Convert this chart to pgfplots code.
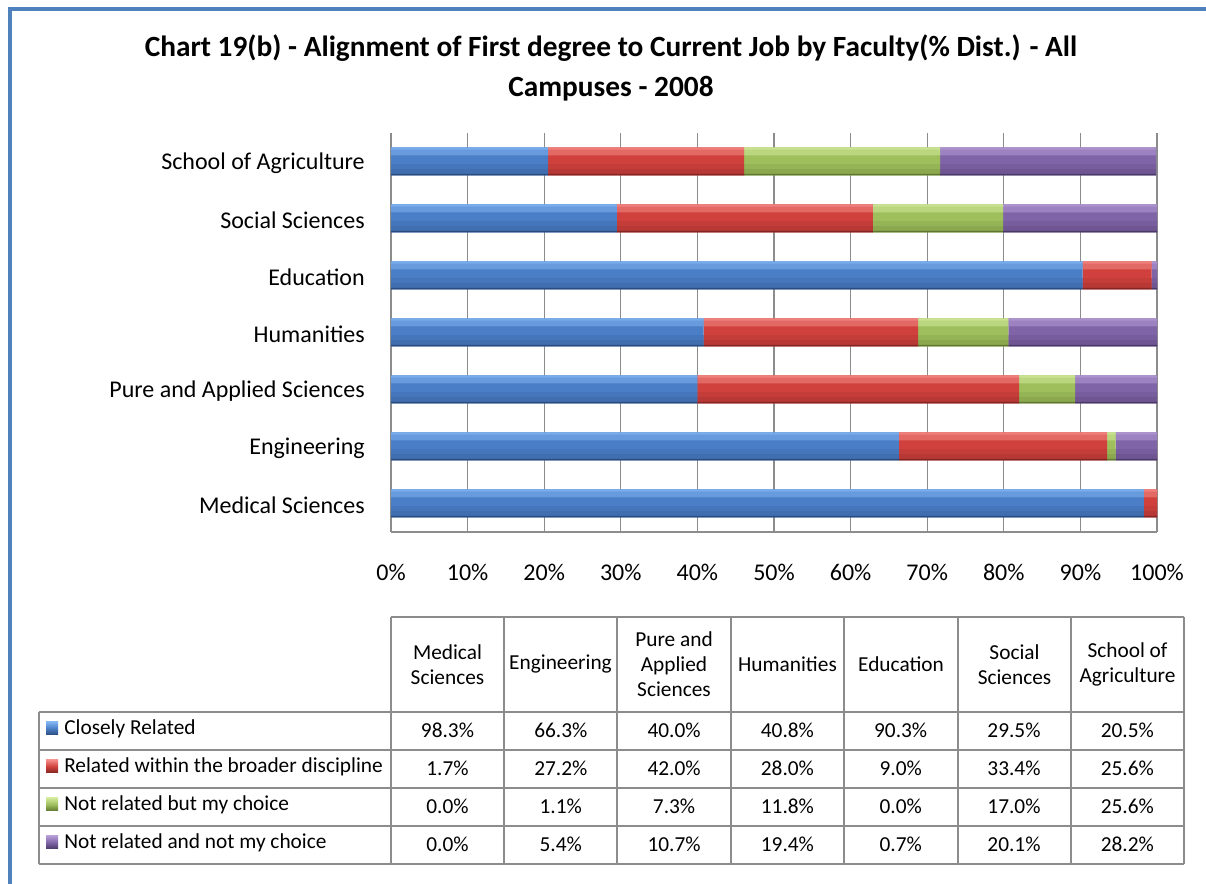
\documentclass[border=0pt]{standalone}
\usepackage{pgfplots}
\usepackage{pgfplotstable}
\pgfplotsset{compat=1.18}
\usepackage{fontspec}
\setmainfont{Carlito}
\definecolor{bord}{HTML}{4F81BD}
\definecolor{gridc}{HTML}{8C8C8C}
\definecolor{blT}{HTML}{7FB3F0}\definecolor{blM}{HTML}{4A7EC6}\definecolor{blE}{HTML}{2A4B7E}
\definecolor{rdT}{HTML}{F38A86}\definecolor{rdM}{HTML}{D0413D}\definecolor{rdE}{HTML}{812623}
\definecolor{grT}{HTML}{D0E89A}\definecolor{grM}{HTML}{9FBF5C}\definecolor{grE}{HTML}{5F7631}
\definecolor{puT}{HTML}{B39AD3}\definecolor{puM}{HTML}{8064A8}\definecolor{puE}{HTML}{4A3866}
\newcommand{\mkshades}[1]{%
  \colorlet{#1L}{#1T!55!#1M}%
  \colorlet{#1U}{#1T!85!#1M}%
  \colorlet{#1A}{#1E!15!#1M}%
  \colorlet{#1B}{#1E!32!#1M}}
\mkshades{bl}\mkshades{rd}\mkshades{gr}\mkshades{pu}
% y: 0 Medical, 1 Engineering, 2 Pure&Applied, 3 Humanities, 4 Education, 5 Social, 6 Agriculture
\pgfplotstableread{
y  cr    rb    nc    nn
0  98.3  1.7   0.0   0.0
1  66.3  27.2  1.1   5.4
2  40.0  42.0  7.3   10.7
3  40.8  28.0  11.8  19.4
4  90.3  9.0   0.0   0.7
5  29.5  33.4  17.0  20.1
6  20.5  25.6  25.6  28.2
}\datatab
\pgfplotsset{
  base/.style={at={(293.25pt,264pt)}, anchor=south west, scale only axis,
    width=574.5pt, height=299.25pt, xbar stacked,
    xmin=0, xmax=100, ymin=-0.5, ymax=6.5},
  layer/.style={base, hide axis, bar width=#1},
}
\newcommand{\fourbars}[1]{%
  \addplot[draw=none, fill=bl#1] table[x=cr, y=y] {\datatab};
  \addplot[draw=none, fill=rd#1] table[x=rb, y=y] {\datatab};
  \addplot[draw=none, fill=gr#1] table[x=nc, y=y] {\datatab};
  \addplot[draw=none, fill=pu#1] table[x=nn, y=y] {\datatab};
}
\begin{document}
\begin{tikzpicture}
\path[use as bounding box] (0,0) rectangle (904.5pt,663pt);
\begin{axis}[base, bar width=21pt,
  ytick={0,...,6},
  yticklabels={Medical Sciences, Engineering, Pure and Applied Sciences, Humanities, Education, Social Sciences, School of Agriculture},
  xtick={0,10,...,100},
  xticklabel={\pgfmathprintnumber{\tick}\%},
  xmajorgrids, major grid style={draw=gridc, line width=1pt},
  axis x line*=bottom, axis y line*=left,
  axis line style={draw=gridc, line width=1.5pt, -},
  major tick length=0pt,
  tick label style={font=\fontsize{18}{21}\selectfont},
  yticklabel style={anchor=east, inner sep=0pt, xshift=-19.5pt, yshift=-1.5pt},
  xticklabel style={anchor=center, inner sep=0pt, yshift=-30pt},
  /pgf/number format/assume math mode=true,
]
\fourbars{M}
\end{axis}
% bands from top to bottom (bar spans -10.5pt .. +10.5pt)
\begin{axis}[layer=5pt, bar shift=7pt]   \fourbars{L} \end{axis}
\begin{axis}[layer=1.6pt, bar shift=9.7pt] \fourbars{U} \end{axis}
\begin{axis}[layer=4pt, bar shift=-4pt]  \fourbars{A} \end{axis}
\begin{axis}[layer=4.5pt, bar shift=-8pt] \fourbars{B} \end{axis}
\begin{axis}[layer=1.2pt, bar shift=-9.9pt] \fourbars{E} \end{axis}
\begin{scope}[shift={(0,663pt)}, x=0.75pt, y=-0.75pt]
  \draw[bord, line width=3pt, line join=miter] (10,890) -- (10,9) -- (1210,9);
  \node[font=\bfseries\fontsize{22}{30}\selectfont, align=center] at (611,68)
    {Chart 19(b) - Alignment of First degree to Current Job by Faculty(\% Dist.) - All\\Campuses - 2008};
  \begin{scope}[draw=gridc, line width=1.5pt]
    \draw (391,617) -- (1184,617);
    \foreach \yy in {712,750,788,826,864} \draw (39,\yy) -- (1184,\yy);
    \foreach \xx in {391,504,617,731,844,958,1071,1184} \draw (\xx,617) -- (\xx,864);
    \draw (39,712) -- (39,864);
  \end{scope}
  \begin{scope}[every node/.style={font=\fontsize{16}{18.75}\selectfont, align=center, inner sep=0pt}]
    \node at (447.5,664.5) {Medical\\Sciences};
    \node at (560.5,664.5) {Engineering};
    \node at (674,664.5) {Pure and\\Applied\\Sciences};
    \node at (787.5,664.5) {Humanities};
    \node at (901,664.5) {Education};
    \node at (1014.5,664.5) {Social\\Sciences};
    \node at (1127.5,664.5) {School of\\Agriculture};
    \shade[top color=blT, bottom color=blE, middle color=blM] (46,722) rectangle (58,735);
    \shade[top color=rdT, bottom color=rdE, middle color=rdM] (46,760) rectangle (58,773);
    \shade[top color=grT, bottom color=grE, middle color=grM] (46,798) rectangle (58,811);
    \shade[top color=puT, bottom color=puE, middle color=puM] (46,836) rectangle (58,849);
    \node[anchor=west] at (64,729) {Closely Related};
    \node[anchor=west] at (64,767) {Related within the broader discipline};
    \node[anchor=west] at (64,805) {Not related but my choice};
    \node[anchor=west] at (64,843) {Not related and not my choice};
    \foreach \v [count=\i from 0] in {98.3,66.3,40.0,40.8,90.3,29.5,20.5}
      \node at ({447.5+113.3*\i},730) {\v\%};
    \foreach \v [count=\i from 0] in {1.7,27.2,42.0,28.0,9.0,33.4,25.6}
      \node at ({447.5+113.3*\i},768) {\v\%};
    \foreach \v [count=\i from 0] in {0.0,1.1,7.3,11.8,0.0,17.0,25.6}
      \node at ({447.5+113.3*\i},806) {\v\%};
    \foreach \v [count=\i from 0] in {0.0,5.4,10.7,19.4,0.7,20.1,28.2}
      \node at ({447.5+113.3*\i},844) {\v\%};
  \end{scope}
\end{scope}
\end{tikzpicture}
\end{document}
